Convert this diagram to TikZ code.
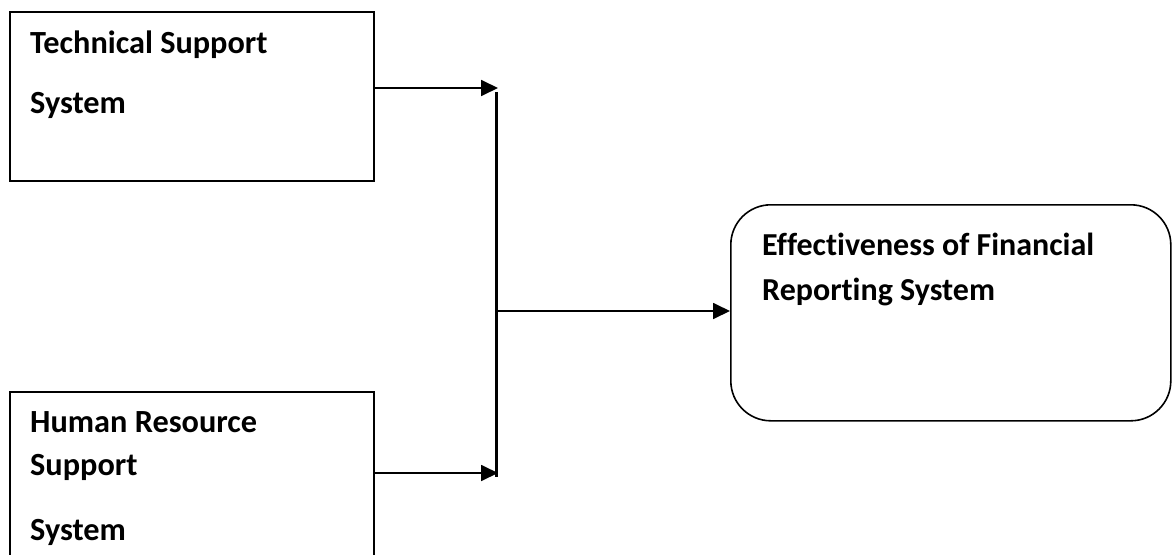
\documentclass[tikz,border=0pt]{standalone}
\usepackage{fontspec}
\setmainfont[Ligatures={NoCommon,NoRare}]{Carlito}
\usetikzlibrary{arrows.meta}
\begin{document}
\begin{tikzpicture}[x=1pt,y=-1pt,
  boxstyle/.style={draw=black, line width=1.6pt, inner sep=0pt},
  lefttext/.style={font=\fontsize{32.3}{34}\selectfont\bfseries, anchor=base west, inner sep=0pt},
  righttext/.style={font=\fontsize{32}{34}\selectfont\bfseries, anchor=base west, inner sep=0pt},
  conn/.style={line width=1.8pt, -{Triangle[length=17pt,width=16pt]}},
  bar/.style={line width=3pt}
]
\useasboundingbox (0,0) rectangle (1174,554);
% boxes
\node[boxstyle, minimum width=364pt, minimum height=169pt, anchor=north west] (tss) at (9,11) {};
\node[boxstyle, minimum width=364pt, minimum height=180pt, anchor=north west] (hrs) at (9,391) {};
\node[boxstyle, rounded corners=40pt, minimum width=440pt, minimum height=216pt, anchor=north west] (efrs) at (730,204) {};
% texts
\node[lefttext] (t1a) at (30,53) {Technical Support};
\node[lefttext] (t1b) at (30,113) {System};
\node[lefttext] (t2a) at (30,432) {Human Resource};
\node[lefttext] (t2b) at (30,475) {Support};
\node[lefttext] (t2c) at (30,540) {System};
\node[righttext] (t3a) at (762,255) {Effectiveness of Financial};
\node[righttext] (t3b) at (762,300) {Reporting System};
% junction
\coordinate (bartop) at (496,92);
\coordinate (barbot) at (496,477);
\coordinate (in1) at (498,88);
\coordinate (in2) at (498,473);
\coordinate (out) at (496,311);
\draw[bar] (bartop) -- (barbot);
\draw[conn] (tss.east |- in1) -- (in1);
\draw[conn] (hrs.east |- in2) -- (in2);
\draw[conn] (out) -- (efrs.west |- out);
\end{tikzpicture}
\end{document}
